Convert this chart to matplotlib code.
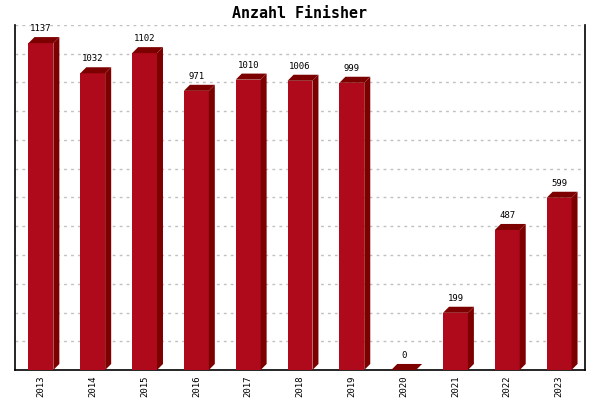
import matplotlib
matplotlib.use("Agg")
import matplotlib.pyplot as plt
from matplotlib.patches import Polygon

years = ['2013', '2014', '2015', '2016', '2017', '2018', '2019', '2020', '2021', '2022', '2023']
finisher = [1137, 1032, 1102, 971, 1010, 1006, 999, 0, 199, 487, 599]

FRONT = '#AF0A1C'
DARK = '#7D0000'
FONT = 'DejaVu Sans Mono'

fig = plt.figure(figsize=(6, 4), dpi=100)
ax = fig.add_axes([0.025, 0.075, 0.95, 0.8625])
ax.set_xlim(-0.5, len(years) - 0.5)
ax.set_ylim(0, 1200)

w = 0.48       # front face width
dx = 0.116     # 3d depth in x (data units)
dy = 21        # 3d depth in y (data units)

for i, v in enumerate(finisher):
    x0, x1 = i - w / 2, i + w / 2
    # front face
    ax.add_patch(Polygon([(x0, 0), (x1, 0), (x1, v), (x0, v)],
                         closed=True, facecolor=FRONT, edgecolor='none', zorder=3))
    # side face
    ax.add_patch(Polygon([(x1, 0), (x1 + dx, dy), (x1 + dx, v + dy), (x1, v)],
                         closed=True, facecolor=DARK, edgecolor='none', zorder=3))
    # top face
    ax.add_patch(Polygon([(x0, v), (x1, v), (x1 + dx, v + dy), (x0 + dx, v + dy)],
                         closed=True, facecolor=DARK, edgecolor='none', zorder=3))
    ax.text(i, v + dy + 14, str(v), ha='center', va='bottom',
            fontsize=6.5, family=FONT, zorder=4)

for y in range(100, 1201, 100):
    ln, = ax.plot([-0.5, len(years) - 0.5], [y, y], color='#C0C0C0', lw=1, zorder=1)
    ln.set_dashes((2, 3))

ax.set_xticks(range(len(years)))
ax.set_xticklabels(years, rotation=90, fontsize=6.5, family=FONT)
ax.tick_params(axis='x', length=0, pad=4)
ax.set_yticks([])

ax.spines['top'].set_visible(False)
for s in ['left', 'right', 'bottom']:
    ax.spines[s].set_linewidth(1.2)
    ax.spines[s].set_color('black')

fig.text(0.5, 0.967, 'Anzahl Finisher', ha='center', va='center',
         fontsize=10.8, fontweight='bold', family=FONT)

fig.savefig('out.png', dpi=100)
